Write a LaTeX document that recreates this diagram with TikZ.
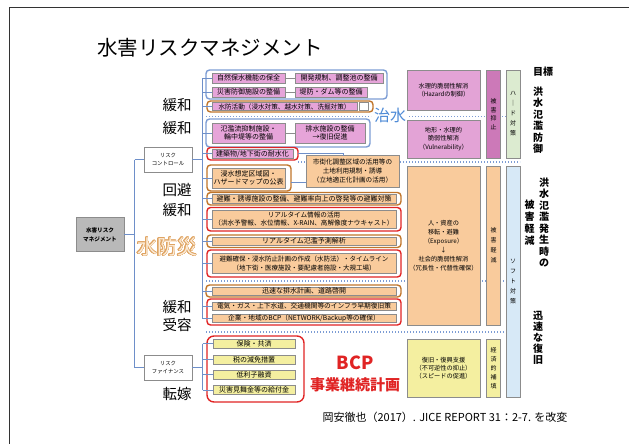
\documentclass[tikz,border=0pt]{standalone}
\usepackage{fontspec}
\setmainfont{Noto Sans CJK JP}
\usepackage{contour}
\contourlength{0.4pt}
\contournumber{24}
\definecolor{pinkf}{HTML}{E6A4D9}
\definecolor{orgf}{HTML}{F9CB9C}
\definecolor{ylwf}{HTML}{F4EFA0}
\definecolor{bluefr}{HTML}{7C9CD4}
\definecolor{orgfr}{HTML}{C0752A}
\definecolor{redfr}{HTML}{E02424}
\definecolor{linec}{HTML}{6E8FC9}
\definecolor{magf}{HTML}{CC79B8}
\definecolor{grnf}{HTML}{DCEBD0}
\definecolor{skyf}{HTML}{D7E9F7}
\definecolor{rpinkf}{HTML}{E3A3D6}
\definecolor{chisui}{HTML}{4F8BD6}
\definecolor{suibo}{HTML}{DFA463}
\definecolor{suibol}{HTML}{FCEBD6}
\definecolor{edge}{HTML}{8C8C8C}
\begin{document}
\begin{tikzpicture}[x=1pt,y=-1pt,
  item/.style={draw=edge, line width=0.5pt, inner sep=0pt, align=center, font=\fontsize{7}{8.5}\selectfont},
  pk/.style={item, fill=pinkf},
  og/.style={item, fill=orgf},
  yw/.style={item, fill=ylwf},
  frm/.style={rounded corners=3.5pt, line width=1.4pt},
  bfr/.style={frm, draw=bluefr},
  ofr/.style={frm, draw=orgfr},
  rfr/.style={frm, draw=redfr},
  tree/.style={draw=linec, line width=0.8pt},
  link/.style={draw=edge, line width=0.6pt},
  dots/.style={draw=bluefr, line width=1.3pt, dash pattern=on 1.3pt off 1.7pt},
  col/.style={draw=edge, line width=0.6pt, inner sep=0pt, align=center, minimum width=14pt},
  rbox/.style={draw=edge, line width=0.6pt, inner sep=0pt, align=center, minimum width=73pt, font=\fontsize{6.2}{8.5}\selectfont},
  lab/.style={font=\fontsize{14.5}{16}\selectfont, inner sep=0pt},
  vlab/.style={font=\bfseries\fontsize{10}{11.5}\selectfont, align=center, inner sep=0pt},
  small/.style={draw=edge, line width=0.6pt, inner sep=0pt, align=center, font=\fontsize{5.4}{8}\selectfont}
]
\useasboundingbox (0,0) rectangle (629,444);
\draw[black!80, line width=1pt] (9,444) -- (9,7.5) -- (629,7.5);

% title
\node[font=\fontsize{20.5}{24}\selectfont, anchor=west, inner sep=0pt] (title) at (97,48) {水害リスクマネジメント};

% dotted separators (behind boxes)
\draw[dots] (206,116.5) -- (371,116.5);
\draw[dots] (409,116.5) -- (520,116.5);
\draw[dots] (298,162) -- (520,162);
\draw[dots] (206,281) -- (520,281);
\draw[dots] (206,332) -- (520,332);
\node[text=chisui, font=\fontsize{16}{18}\selectfont, inner sep=0pt] (chisui) at (390,115) {治水};

% left tree
\node[small, fill=gray!55, minimum width=48pt, minimum height=34pt, font=\bfseries\fontsize{5.6}{9}\selectfont] (mgmt) at (100,234.5) {水害リスク\\マネジメント};
\node[small, fill=white, minimum width=48pt, minimum height=25pt] (ctrl) at (168,159.5) {リスク\\コントロール};
\node[small, fill=white, minimum width=48pt, minimum height=25pt] (fin) at (168,367.5) {リスク\\ファイナンス};
\coordinate (v1) at (134.5,0);
\coordinate (v2) at (202.5,0);
\draw[tree] (mgmt.east) -- (mgmt.east -| v1);
\draw[tree] (ctrl.west -| v1) -- (fin.west -| v1);
\draw[tree] (ctrl.west -| v1) -- (ctrl.west);
\draw[tree] (fin.west -| v1) -- (fin.west);
\draw[tree] (ctrl.east) -- (ctrl.east -| v2);
\draw[tree] (fin.east) -- (fin.east -| v2);

% left labels
\node[lab] (l1) at (177,105) {緩和};
\node[lab] (l2) at (177,128) {緩和};
\node[lab] (l3) at (177,190) {回避};
\node[lab] (l4) at (177,210) {緩和};
\node[lab, font=\fontsize{20}{22}\selectfont] (l5) at (167,247) {\contour{suibo}{\textcolor{suibol}{水防災}}};
\node[lab] (l6) at (177,307) {緩和};
\node[lab] (l7) at (177,325) {受容};
\node[lab] (l8) at (177,394) {転嫁};

% ---- control items ----
\draw[bfr] (206,70) rectangle (387,99);
\node[pk, minimum width=73pt, minimum height=10pt] (a1) at (248.5,78) {自然保水機能の保全};
\node[pk, minimum width=88pt, minimum height=10pt] (a2) at (339,78) {開発規制、調整池の整備};
\node[pk, minimum width=73pt, minimum height=10pt] (b1) at (248.5,92) {災害防御施設の整備};
\node[pk, minimum width=72pt, minimum height=10pt] (b2) at (331,92) {堤防・ダム等の整備};
\draw[link] (a1) -- (a2);
\draw[link] (b1) -- (b2);

\draw[ofr] (207,101) rectangle (373,112);
\node[pk, minimum width=145pt, minimum height=8pt, font=\fontsize{6.6}{8}\selectfont] (c1) at (284.5,106.5) {水防活動（浸水対策、越水対策、洗掘対策）};
\node[item, fill=white, minimum width=9pt, minimum height=8pt] (c2) at (363.5,106.5) {};

\draw[bfr] (206,119) rectangle (370,147);
\node[pk, minimum width=73pt, minimum height=20pt] (d1) at (248.5,133) {氾濫流抑制施設・\\輪中堤等の整備};
\node[pk, minimum width=70pt, minimum height=20pt] (d2) at (330,133) {排水施設の整備\\→復旧促進};
\draw[link] (d1) -- (d2);

\draw[rfr] (207,147.5) rectangle (298,160);
\node[pk, minimum width=81pt, minimum height=8.5pt] (e1) at (252.5,153.8) {建築物/地下街の耐水化};

\node[og, minimum width=93pt, minimum height=32pt, font=\fontsize{6.6}{9}\selectfont] (f1) at (352.5,171.5) {市街化調整区域の活用等の\\土地利用規制・誘導\\（立地適正化計画の活用）};
\coordinate (efr) at (298,153.8);
\coordinate (fup) at (343,155.5);
\draw[tree] (efr) -| (fup);

\draw[ofr] (207,165) rectangle (291,191);
\node[og, minimum width=73pt, minimum height=20pt] (g1) at (248.5,178) {浸水想定区域図・\\ハザードマップの公表};
\coordinate (gfr) at (291,182);
\draw[tree] (gfr) -- (gfr -| f1.west);

\draw[ofr] (207,192.5) rectangle (401,205);
\node[og, minimum width=184pt, minimum height=8.5pt] (h1) at (304,198.8) {避難・誘導施設の整備、避難率向上の啓発等の避難対策};

\draw[rfr] (207,207.5) rectangle (401,231);
\node[og, minimum width=184pt, minimum height=18pt, font=\fontsize{6.6}{8.5}\selectfont] (i1) at (304,219.2) {リアルタイム情報の活用\\（洪水予警報、水位情報、X-RAIN、高解像度ナウキャスト）};

\draw[ofr] (207,235) rectangle (401,247.5);
\node[og, minimum width=184pt, minimum height=8.5pt] (j1) at (304,241.2) {リアルタイム氾濫予測解析};

\draw[rfr] (207,250) rectangle (401,277);
\node[og, minimum width=184pt, minimum height=20pt, font=\fontsize{6.5}{8.8}\selectfont] (k1) at (304,263.5) {避難確保・浸水防止計画の作成（水防法）・タイムライン\\（地下街・医療施設・要配慮者施設・大規工場）};

\draw[ofr] (206,285) rectangle (401,297);
\node[og, minimum width=184pt, minimum height=8pt] (m0) at (304,291) {迅速な排水計画、道路啓開};

\draw[rfr] (207,299) rectangle (401,325);
\node[og, minimum width=184pt, minimum height=8pt, font=\fontsize{6.7}{8}\selectfont] (m1) at (304,306) {電気・ガス・上下水道、交通機関等のインフラ早期復旧策};
\node[og, minimum width=184pt, minimum height=8pt, font=\fontsize{6.7}{8}\selectfont] (m2) at (304,318.5) {企業・地域のBCP（NETWORK/Backup等の確保）};

% ticks from control line
\draw[tree] (a1.west -| v2) -- (m2.west -| v2);
\foreach \n in {a1,b1,c1,d1,e1,g1,h1,i1,j1,k1,m0,m1,m2}{
  \draw[tree] (\n.west -| v2) -- (\n.west);
}

% ---- finance items ----
\draw[rfr, rounded corners=7pt] (207,336) rectangle (304,402);
\node[yw, minimum width=82pt, minimum height=9pt] (n1) at (254,343.5) {保険・共済};
\node[yw, minimum width=82pt, minimum height=9pt] (n2) at (254,359.5) {税の減免措置};
\node[yw, minimum width=82pt, minimum height=9pt] (n3) at (254,374.5) {低利子融資};
\node[yw, minimum width=82pt, minimum height=9pt] (n4) at (254,390) {災害見舞金等の給付金};
\draw[tree] (n1.west -| v2) -- (n4.west -| v2);
\foreach \n in {n1,n2,n3,n4}{
  \draw[tree] (\n.west -| v2) -- (\n.west);
}
\node[text=redfr, font=\bfseries\fontsize{18}{20}\selectfont, inner sep=0pt] (bcp) at (355,363) {BCP};
\node[text=redfr, font=\bfseries\fontsize{15}{17}\selectfont, inner sep=0pt] (bcpj) at (355,385) {事業継続計画};

% ---- right boxes ----
\node[rbox, fill=rpinkf, minimum height=40pt] (r1) at (443.5,90) {水理的脆弱性解消\\（Hazardの制御）};
\node[rbox, fill=rpinkf, minimum height=38pt] (r2) at (443.5,139) {地形・水理的\\脆弱性解消\\（Vulnerability）};
\node[rbox, fill=orgf, minimum height=159pt, font=\fontsize{6.2}{9}\selectfont] (r3) at (443.5,245.5) {人・資産の\\移転・避難\\（Exposure）\\↓\\社会的脆弱性解消\\（冗長性・代替性確保）};
\node[rbox, fill=ylwf, minimum height=58pt, font=\fontsize{6.2}{8}\selectfont] (r4) at (443.5,368) {復旧・復興支援\\（不可逆性の抑止）\\（スピードの促進）};

\node[col, fill=magf, minimum height=88pt, font=\fontsize{6}{8.5}\selectfont] (c1r) at (493.5,114) {被\\害\\抑\\止};
\node[col, fill=orgf, minimum height=159pt, font=\fontsize{6}{10}\selectfont] (c2r) at (493.5,245.5) {被\\害\\軽\\減};
\node[col, fill=ylwf, minimum height=58pt, font=\fontsize{6}{9}\selectfont] (c3r) at (493.5,368) {経\\済\\的\\補\\填};
\node[col, fill=grnf, minimum height=88pt, font=\fontsize{6}{10}\selectfont] (c4r) at (513,114) {ハ\\｜\\ド\\対\\策};
\node[col, fill=skyf, minimum height=231pt, font=\fontsize{6}{10}\selectfont] (c5r) at (513,281.5) {ソ\\フ\\ト\\対\\策};

% right labels
\node[font=\bfseries\fontsize{10}{12}\selectfont, inner sep=0pt] (goal) at (543,72) {目標};
\node[vlab] (g2) at (538,120) {洪\\水\\氾\\濫\\防\\御};
\node[vlab] (g3) at (544,222.5) {洪\\水\\氾\\濫\\発\\生\\時\\の};
\node[vlab, font=\bfseries\fontsize{10}{12}\selectfont] (g4) at (529.5,223) {被\\害\\軽\\減};
\node[vlab, font=\bfseries\fontsize{10}{11}\selectfont] (g5) at (538,338) {迅\\速\\な\\復\\旧};

% citation
\node[font=\fontsize{11}{13}\selectfont, inner sep=0pt] (cite) at (445,417) {岡安徹也（2017）. JICE REPORT 31：2-7. を改変};
\end{tikzpicture}
\end{document}
